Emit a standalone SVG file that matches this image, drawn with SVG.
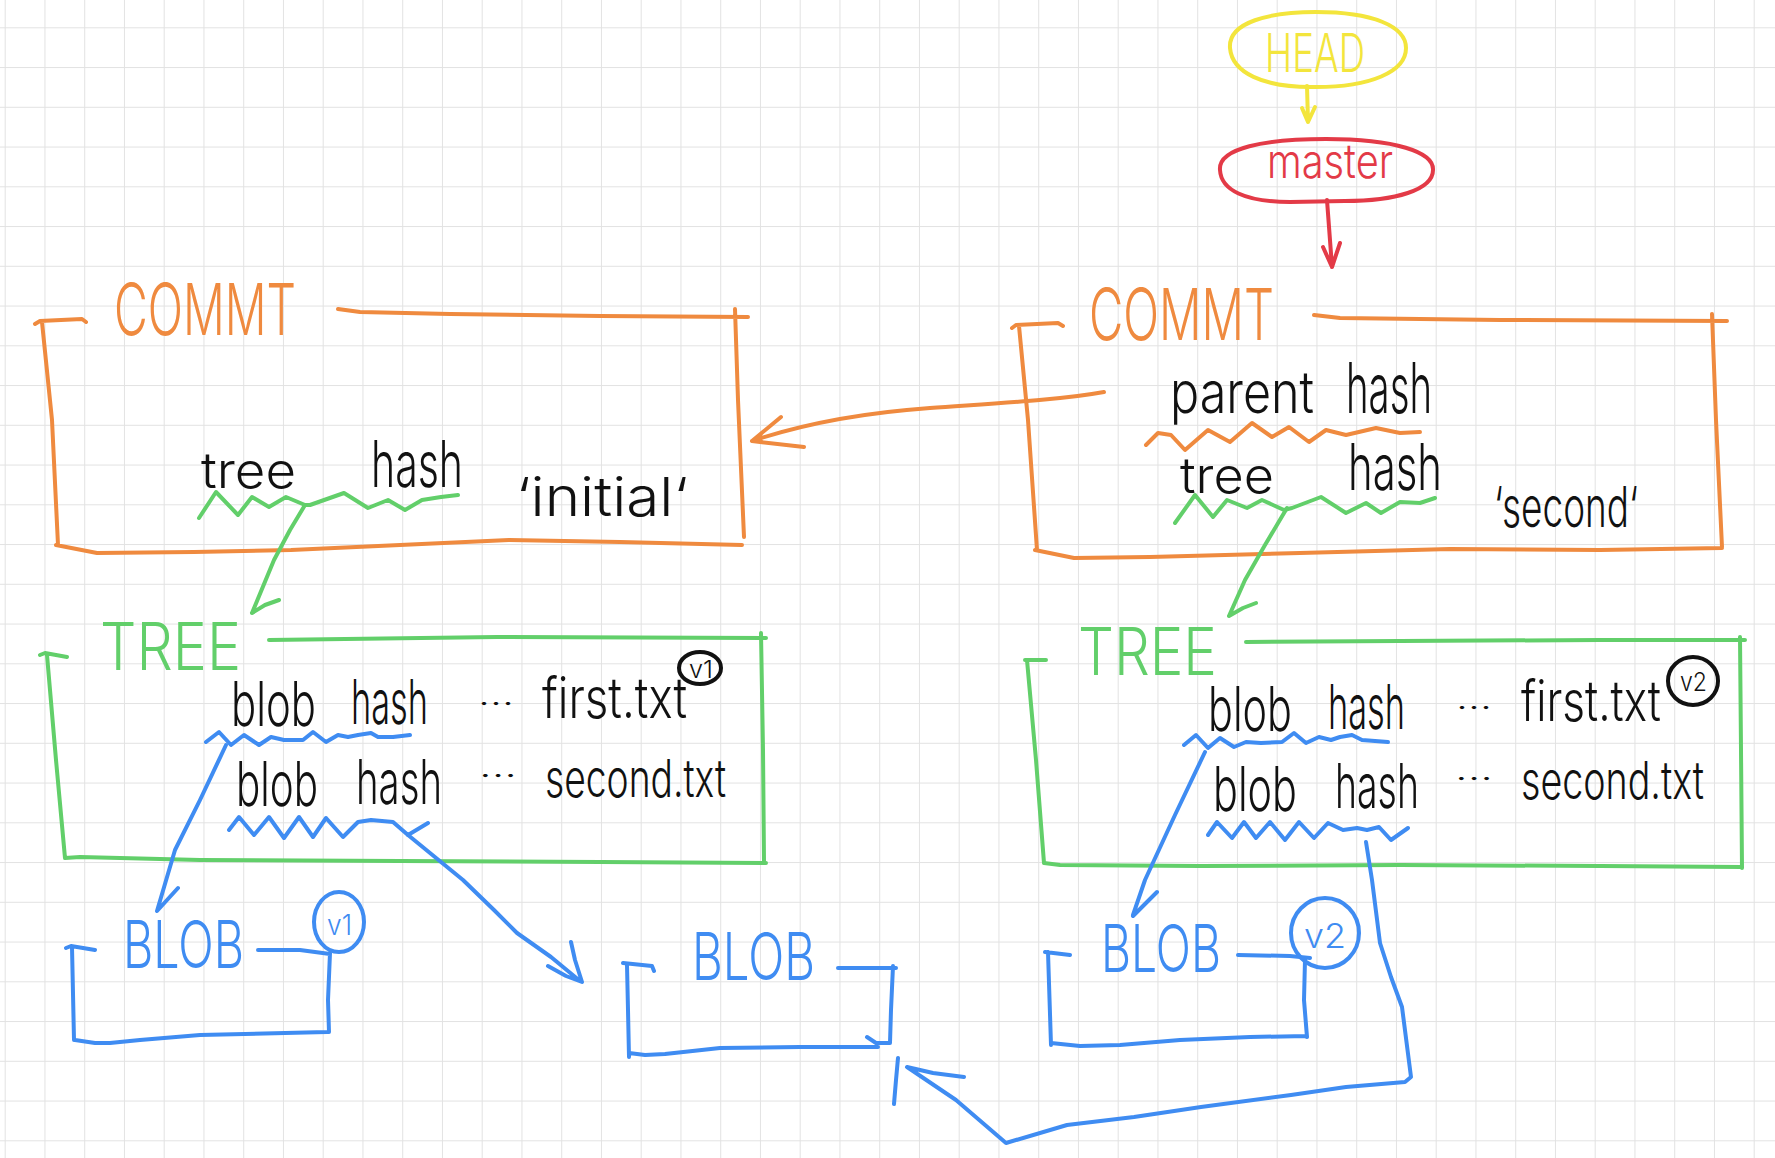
<svg xmlns="http://www.w3.org/2000/svg" width="1775" height="1158" viewBox="0 0 1775 1158">
<defs>
<pattern id="grid" patternUnits="userSpaceOnUse" x="4.7" y="27.3" width="39.75" height="39.75">
<path d="M0,0 L39.75,0 M0,0 L0,39.75" fill="none" stroke="#e2e2e2" stroke-width="2"/>
</pattern>
<style>
.s{fill:none;stroke-width:4;stroke-linecap:round;stroke-linejoin:round}
.o{stroke:#ef8a3f}.g{stroke:#62cf6a}.b{stroke:#3f8cf2}.y{stroke:#f3e53c}.r{stroke:#e33a47}.k{stroke:#111}
text{font-family:"Inter","Liberation Sans",sans-serif;font-weight:300}
.tk{fill:#111}.to{fill:#ef8a3f}.tg{fill:#62cf6a}.tb{fill:#3f8cf2}.ty{fill:#f3e53c}.tr{fill:#e33a47}
</style>
</defs>
<rect width="1775" height="1158" fill="#ffffff"/>
<rect width="1775" height="1158" fill="url(#grid)"/>

<g id="head">
<path class="s y" d="M1230,48 C1228,22 1270,12 1316,12 C1372,12 1406,26 1406,48 C1406,72 1370,87 1316,87 C1262,88 1232,72 1230,48 Z"/>
<text class="ty" x="1265" y="72" font-size="54" textLength="100" lengthAdjust="spacingAndGlyphs">HEAD</text>
</g>

<g id="master">
<path class="s r" d="M1220,170 C1218,148 1265,139 1326,139 C1395,139 1434,152 1433,170 C1433,190 1395,201 1345,201 L1290,202 C1245,202 1221,190 1220,170 Z"/>
<text class="tr" x="1267" y="178" font-size="48" textLength="126" lengthAdjust="spacingAndGlyphs">master</text>
</g>

<g id="commit1">
<path class="s o" d="M35,324 L40,321 L82,319 L86,322 M42,322 L52,420 L58,545 M338,309 L360,312 L450,314 L600,316 L748,317 M735,309 L738,400 L744,537 M56,545 L97,553 L194,552 L291,550 L400,545 L509,540 L620,542 L742,545"/>
<text class="to" x="114" y="335" font-size="72" textLength="182" lengthAdjust="spacingAndGlyphs">COMMT</text>
<text class="tk" x="201" y="488" font-size="50" textLength="95" lengthAdjust="spacingAndGlyphs">tree</text>
<text class="tk" x="371" y="487" font-size="64" textLength="92" lengthAdjust="spacingAndGlyphs">hash</text>
<text class="tk" x="516" y="516" font-size="54" textLength="172" lengthAdjust="spacingAndGlyphs">‘initial‘</text>
<polyline class="s g" points="199,518 216,492 238,515 252,497 269,507 286,497 305,505 310,505 344,493 368,508 388,500 405,510 422,500 441,497 458,495"/>
</g>

<g id="commit2">
<path class="s o" d="M1012,328 L1016,325 L1058,323 L1063,326 M1019,326 L1028,420 L1037,550 M1314,315 L1340,318 L1500,320 L1727,321 M1712,314 L1716,420 L1722,547 M1035,550 L1074,558 L1150,557 L1300,553 L1450,549 L1600,550 L1722,548"/>
<text class="to" x="1089" y="340" font-size="72" textLength="185" lengthAdjust="spacingAndGlyphs">COMMT</text>
<text class="tk" x="1170" y="413" font-size="58" textLength="144" lengthAdjust="spacingAndGlyphs">parent</text>
<text class="tk" x="1346" y="413" font-size="70" textLength="86" lengthAdjust="spacingAndGlyphs">hash</text>
<text class="tk" x="1180" y="493" font-size="50" textLength="94" lengthAdjust="spacingAndGlyphs">tree</text>
<text class="tk" x="1348" y="490" font-size="64" textLength="94" lengthAdjust="spacingAndGlyphs">hash</text>
<text class="tk" x="1494" y="527" font-size="56" textLength="144" lengthAdjust="spacingAndGlyphs">‘second‘</text>
<polyline class="s o" points="1146,445 1158,433 1171,435 1185,450 1208,430 1230,442 1252,423 1272,437 1289,427 1309,442 1326,430 1346,435 1376,428 1400,433 1420,432"/>
<polyline class="s g" points="1175,523 1195,495 1213,517 1227,500 1247,508 1262,500 1284,510 1292,508 1321,497 1346,513 1366,503 1381,513 1400,502 1420,503 1435,498"/>
</g>

<g id="tree1">
<path class="s g" d="M40,655 L45,653 L67,657 M47,655 L56,760 L65,858 M269,640 L497,637 L766,638 M761,633 L763,750 L764,862 M65,858 L80,857 L200,860 L400,861 L600,862 L766,863"/>
<text class="tg" x="100" y="670" font-size="66" textLength="141" lengthAdjust="spacingAndGlyphs">TREE</text>
<text class="tk" x="231" y="726" font-size="62" textLength="85" lengthAdjust="spacingAndGlyphs">blob</text>
<text class="tk" x="351" y="724" font-size="62" textLength="77" lengthAdjust="spacingAndGlyphs">hash</text>
<text class="tk" x="478" y="714" font-size="30" textLength="36" lengthAdjust="spacingAndGlyphs">···</text>
<text class="tk" x="542" y="718" font-size="56" textLength="145" lengthAdjust="spacingAndGlyphs">first.txt</text>
<ellipse class="s k" cx="700" cy="668" rx="21" ry="16" stroke-width="3"/>
<text class="tk" x="689" y="678" font-size="24" textLength="24" lengthAdjust="spacingAndGlyphs">v1</text>
<text class="tk" x="236" y="806" font-size="62" textLength="82" lengthAdjust="spacingAndGlyphs">blob</text>
<text class="tk" x="356" y="804" font-size="62" textLength="86" lengthAdjust="spacingAndGlyphs">hash</text>
<text class="tk" x="479" y="786" font-size="30" textLength="38" lengthAdjust="spacingAndGlyphs">···</text>
<text class="tk" x="545" y="797" font-size="52" textLength="181" lengthAdjust="spacingAndGlyphs">second.txt</text>
<polyline class="s b" points="206,742 219,732 231,745 244,735 259,745 271,737 284,740 303,740 313,732 326,742 338,735 348,737 358,735 371,733 378,737 393,737 410,735"/>
<polyline class="s b" points="229,830 239,817 254,835 269,817 284,838 299,817 313,837 326,818 343,837 358,822 371,820 393,822 408,835 428,823"/>
</g>

<g id="tree2">
<path class="s g" d="M1025,660 L1046,660 M1027,660 L1036,760 L1044,863 M1246,642 L1400,641 L1600,640 L1745,640 M1740,637 L1741,750 L1742,868 M1044,863 L1060,865 L1200,866 L1400,865 L1600,866 L1742,867"/>
<text class="tg" x="1078" y="675" font-size="66" textLength="139" lengthAdjust="spacingAndGlyphs">TREE</text>
<text class="tk" x="1208" y="731" font-size="62" textLength="84" lengthAdjust="spacingAndGlyphs">blob</text>
<text class="tk" x="1328" y="729" font-size="62" textLength="77" lengthAdjust="spacingAndGlyphs">hash</text>
<text class="tk" x="1456" y="718" font-size="30" textLength="36" lengthAdjust="spacingAndGlyphs">···</text>
<text class="tk" x="1521" y="721" font-size="56" textLength="140" lengthAdjust="spacingAndGlyphs">first.txt</text>
<ellipse class="s k" cx="1693" cy="681" rx="25" ry="24" stroke-width="3"/>
<text class="tk" x="1680" y="691" font-size="26" textLength="27" lengthAdjust="spacingAndGlyphs">v2</text>
<text class="tk" x="1213" y="811" font-size="62" textLength="84" lengthAdjust="spacingAndGlyphs">blob</text>
<text class="tk" x="1335" y="808" font-size="62" textLength="84" lengthAdjust="spacingAndGlyphs">hash</text>
<text class="tk" x="1455" y="789" font-size="30" textLength="38" lengthAdjust="spacingAndGlyphs">···</text>
<text class="tk" x="1521" y="799" font-size="52" textLength="183" lengthAdjust="spacingAndGlyphs">second.txt</text>
<polyline class="s b" points="1184,745 1196,735 1208,748 1220,738 1234,747 1246,742 1261,743 1282,742 1294,733 1306,743 1319,737 1331,740 1340,737 1352,735 1362,740 1388,742"/>
<polyline class="s b" points="1208,835 1217,822 1232,838 1244,822 1256,838 1270,822 1285,840 1299,822 1314,838 1328,823 1343,830 1357,828 1367,830 1379,827 1391,840 1408,828"/>
</g>

<g id="blob1">
<path class="s b" d="M66,948 L71,946 L95,950 M72,947 L74,1040 M258,950 L300,950 L330,954 M330,953 L328,1000 L329,1032 M75,1040 L95,1043 L110,1043 L140,1040 L200,1035 L327,1032"/>
<text class="tb" x="123" y="968" font-size="66" textLength="121" lengthAdjust="spacingAndGlyphs">BLOB</text>
<ellipse class="s b" cx="339" cy="922" rx="25" ry="30" stroke-width="3.5"/>
<text class="tb" x="327" y="935" font-size="28" textLength="25" lengthAdjust="spacingAndGlyphs">v1</text>
</g>

<g id="blob-mid">
<path class="s b" d="M623,963 L652,966 L654,971 M627,965 L628,1010 L629,1057 M838,968 L896,968 M893,966 L891,1010 L890,1043 M867,1037 L876,1043 L890,1043 M629,1053 L645,1055 L665,1054 L720,1048 L800,1047 L878,1047"/>
<text class="tb" x="692" y="980" font-size="66" textLength="123" lengthAdjust="spacingAndGlyphs">BLOB</text>
</g>

<g id="blob2">
<path class="s b" d="M1045,952 L1070,955 M1048,952 L1051,1045 M1238,955 L1290,956 L1310,958 M1305,960 L1304,1000 L1307,1037 M1051,1043 L1080,1046 L1120,1045 L1180,1040 L1250,1037 L1307,1036"/>
<text class="tb" x="1101" y="972" font-size="66" textLength="120" lengthAdjust="spacingAndGlyphs">BLOB</text>
<ellipse class="s b" cx="1325" cy="933" rx="34" ry="35" stroke-width="3.5"/>
<text class="tb" x="1304" y="948" font-size="34" textLength="42" lengthAdjust="spacingAndGlyphs">v2</text>
</g>

<g id="connectors">
<path class="s y" d="M1307,86 L1308,122 M1302,108 L1308,122 L1315,107"/>
<path class="s r" d="M1327,200 L1332,267 M1323,247 L1332,267 L1340,243"/>
<path class="s o" d="M1104,392 C1060,400 1000,403 930,408 C860,413 800,425 752,441 M781,417 L752,441 L804,447"/>
<path class="s g" d="M305,505 L290,530 L274,560 L252,613 M252,613 L265,605 L279,600"/>
<path class="s g" d="M1287,508 L1265,545 L1245,580 L1229,616 M1229,616 L1243,608 L1256,603"/>
<path class="s b" d="M226,745 L200,800 L175,850 L157,911 M178,888 L157,911"/>
<path class="s b" d="M408,835 L463,880 L494,910 L517,933 L551,957 L580,981 M571,942 L575,960 L582,982 L566,976 L548,966"/>
<path class="s b" d="M1205,752 L1175,815 L1145,880 L1133,915 M1157,892 L1133,916"/>
<path class="s b" d="M1366,842 L1372,880 L1380,943 L1391,977 L1402,1007 L1411,1077 L1405,1082 L1346,1087 L1291,1095 L1201,1107 L1134,1117 L1067,1125 L1006,1143 L956,1100 L907,1067 M907,1067 L933,1073 L964,1077 M898,1058 L896,1080 L894,1104"/>
</g>
</svg>
